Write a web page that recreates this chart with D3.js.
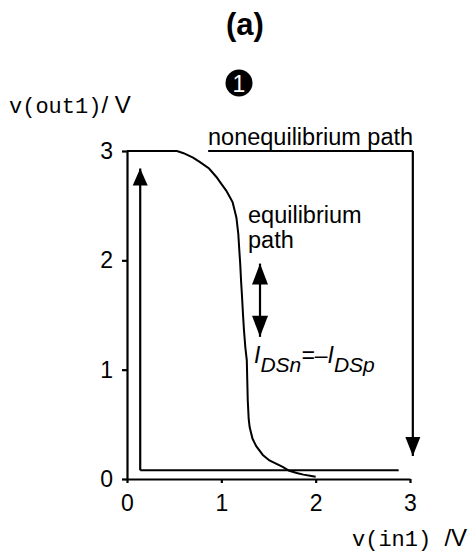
<!DOCTYPE html>
<html>
<head>
<meta charset="utf-8">
<script src="https://cdn.jsdelivr.net/npm/d3@7"></script>
<style>
  html, body { margin: 0; padding: 0; background: #fff; }
  svg { display: block; }
  text { font-family: "Liberation Sans", Arial, sans-serif; fill: #000; }
  .mono { font-family: "Liberation Mono", "Courier New", monospace; }
</style>
</head>
<body>
<svg id="chart" width="473" height="552"></svg>
<script>
// Transfer characteristic of the inverter: v(out1) against v(in1)
const vin  = [0, 0.53, 0.60, 0.70, 0.77, 0.87, 0.95, 1.00, 1.05, 1.09, 1.12, 1.14, 1.16, 1.18, 1.19, 1.20, 1.21, 1.22, 1.23, 1.24, 1.255, 1.27, 1.275, 1.28, 1.29, 1.30, 1.33, 1.37, 1.44, 1.51, 1.58, 1.65, 1.72, 1.80, 1.87, 1.94, 2.00];
const vout = [3, 3.00, 2.98, 2.94, 2.90, 2.84, 2.76, 2.70, 2.64, 2.58, 2.53, 2.46, 2.39, 2.24, 2.10, 1.97, 1.80, 1.66, 1.50, 1.36, 1.20, 1.085, 0.90, 0.72, 0.55, 0.475, 0.37, 0.30, 0.22, 0.17, 0.14, 0.11, 0.075, 0.055, 0.04, 0.03, 0.02];

// Nonequilibrium path: up along the left, across the bottom, and down from the top right
const upLegX = [0.14, 0.14];
const upLegY = [0.08, 2.84];
const bottomLegX = [0.14, 2.88];
const bottomLegY = [0.08, 0.08];
const topLegX = [0.86, 3.03];
const topLegY = [3.0, 3.0];
const downLegX = [3.03, 3.03];
const downLegY = [3.0, 0.21];

// Double-headed arrow beside the equilibrium path
const swingX = [1.41, 1.41];
const swingY = [1.97, 1.30];

const xTicks = [0, 1, 2, 3];
const yTicks = [0, 1, 2, 3];

const svg = d3.select("#chart");

const x = d3.scaleLinear().domain([0, 3]).range([127, 410]);
const y = d3.scaleLinear().domain([0, 3]).range([479, 151]);

// Axes
const xAxis = d3.axisBottom(x).tickValues(xTicks).tickFormat(d3.format("d")).tickSize(4).tickPadding(10).tickSizeOuter(0);
const yAxis = d3.axisLeft(y).tickValues(yTicks).tickFormat(d3.format("d")).tickSize(5).tickPadding(9).tickSizeOuter(0);

const gx = svg.append("g").attr("transform", `translate(0,${y(0)})`).call(xAxis);
const gy = svg.append("g").attr("transform", `translate(${x(0)},0)`).call(yAxis);
[gx, gy].forEach(g => {
  g.select(".domain").attr("stroke", "#000").attr("stroke-width", 2.2);
  g.selectAll(".tick line").attr("stroke", "#000").attr("stroke-width", 2.2);
  g.selectAll(".tick text").attr("fill", "#000")
    .style("font-family", '"Liberation Sans", Arial, sans-serif')
    .style("font-size", "23px");
});
gx.selectAll(".tick text").attr("dy", "0.8em");

const line = d3.line().x(d => x(d[0])).y(d => y(d[1]));
const zipXY = (xs, ys) => xs.map((v, i) => [v, ys[i]]);

// Equilibrium transfer curve
svg.append("path")
  .datum(zipXY(vin, vout))
  .attr("d", line)
  .attr("fill", "none")
  .attr("stroke", "#000")
  .attr("stroke-width", 2)
  .attr("stroke-linejoin", "miter");

// Nonequilibrium path segments
[[upLegX, upLegY], [bottomLegX, bottomLegY], [topLegX, topLegY], [downLegX, downLegY], [swingX, swingY]]
  .forEach(([xs, ys]) => {
    svg.append("path")
      .datum(zipXY(xs, ys))
      .attr("d", line)
      .attr("fill", "none")
      .attr("stroke", "#000")
      .attr("stroke-width", 2.2);
  });

// Filled triangular arrowhead with its tip at (tx, ty) in data units
function arrowHead(tx, ty, dir, len, half) {
  const px = x(tx), py = y(ty);
  const by = py + dir * len;
  svg.append("path")
    .attr("d", `M${px},${py}L${px - half},${by}L${px + half},${by}Z`)
    .attr("fill", "#000");
}
arrowHead(upLegX[1], upLegY[1], 1, 17, 7.5);
arrowHead(downLegX[1], downLegY[1], -1, 19, 7.5);
arrowHead(swingX[0], swingY[0], 1, 21, 8);
arrowHead(swingX[1], swingY[1], -1, 21, 8);

// Title
svg.append("text")
  .attr("x", 245).attr("y", 35)
  .attr("text-anchor", "middle")
  .style("font-size", "31px").style("font-weight", "bold")
  .text("(a)");

// Numbered marker
svg.append("circle").attr("cx", 239).attr("cy", 83).attr("r", 13.5).attr("fill", "#000");
svg.append("text")
  .attr("x", 239).attr("y", 91.5)
  .attr("text-anchor", "middle")
  .style("font-size", "23px")
  .style("fill", "#fff")
  .text("1");

// Axis titles
const yTitle = svg.append("text").attr("x", 9).attr("y", 113).style("font-size", "22px");
yTitle.append("tspan").attr("class", "mono").text("v(out1)");
yTitle.append("tspan").style("font-size", "24px").text("/ V");

const xTitle = svg.append("text").attr("x", 352).attr("y", 546).style("font-size", "22px");
xTitle.append("tspan").attr("class", "mono").text("v(in1) ");
xTitle.append("tspan").style("font-size", "24px").text("/V");

// Annotations
svg.append("text")
  .attr("x", 208).attr("y", 145)
  .style("font-size", "23.5px")
  .text("nonequilibrium path");

svg.append("text").attr("x", 248).attr("y", 223).style("font-size", "23.5px").text("equilibrium");
svg.append("text").attr("x", 248).attr("y", 248).style("font-size", "23.5px").text("path");

const rel = svg.append("text").attr("x", 254).attr("y", 363)
  .style("font-size", "23px").style("font-style", "italic");
rel.append("tspan").text("I");
rel.append("tspan").attr("dy", 9).style("font-size", "21px").text("DSn");
rel.append("tspan").attr("dy", -9).text("=–I");
rel.append("tspan").attr("dy", 9).style("font-size", "21px").text("DSp");
</script>
</body>
</html>
